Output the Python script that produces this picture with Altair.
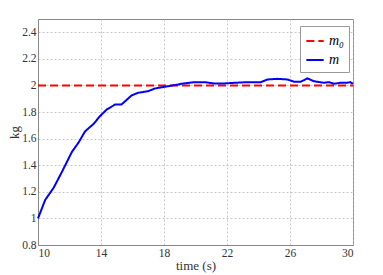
import altair as alt
import pandas as pd

t_m = [10, 10.46, 10.99, 11.52, 12.15, 12.57, 12.99, 13.52, 13.94, 14.37, 14.9, 15.3,
       15.94, 16.36, 16.99, 17.41, 18.04, 18.88, 19.1, 19.94, 20.57, 21.2, 21.83, 22.46,
       23.3, 24.15, 24.57, 25.2, 25.84, 26.26, 26.68, 27.1, 27.52, 28.15, 28.47, 28.78,
       29.2, 29.62, 29.83, 30]
v_m = [1.0, 1.14, 1.23, 1.35, 1.5, 1.57, 1.655, 1.71, 1.77, 1.82, 1.857, 1.857,
       1.925, 1.945, 1.957, 1.977, 1.99, 2.007, 2.013, 2.025, 2.025, 2.015, 2.015, 2.02,
       2.025, 2.025, 2.045, 2.05, 2.045, 2.028, 2.028, 2.053, 2.032, 2.02, 2.025, 2.013,
       2.02, 2.02, 2.025, 2.013]
t_m0 = [10, 30]
v_m0 = [2.0, 2.0]
series_names = ["m₀", "m"]

df = pd.DataFrame(
    {"t": t_m0 + t_m,
     "v": v_m0 + v_m,
     "s": [series_names[0]] * len(t_m0) + [series_names[1]] * len(t_m)}
)

font = "Liberation Serif"

chart = alt.Chart(df).mark_line(strokeWidth=2).encode(
    x=alt.X("t:Q", scale=alt.Scale(domain=[10, 30], nice=False),
            axis=alt.Axis(values=[10, 14, 18, 22, 26, 30], title="time (s)",
                          titlePadding=1, labelFont=font, titleFont=font)),
    y=alt.Y("v:Q", scale=alt.Scale(domain=[0.8, 2.5], nice=False),
            axis=alt.Axis(values=[0.8, 1.0, 1.2, 1.4, 1.6, 1.8, 2.0, 2.2, 2.4],
                          format=".1~f", title="kg", titlePadding=0,
                          labelFont=font, titleFont=font)),
    color=alt.Color("s:N", scale=alt.Scale(domain=series_names, range=["#ff0000", "#0000ff"]),
                    legend=alt.Legend(title=None, orient="none", legendX=262, legendY=7,
                                      fillColor="white", strokeColor="#999999",
                                      padding=5, symbolSize=300, symbolStrokeWidth=2,
                                      labelFont=font, labelFontStyle="italic",
                                      labelFontSize=14, rowPadding=2,
                                      symbolType="stroke")),
    strokeDash=alt.StrokeDash("s:N", scale=alt.Scale(domain=series_names,
                                                      range=[[8, 4], [1, 0]]),
                              legend=None),
    order=alt.Order("t:Q"),
).properties(
    width=315, height=226,
    autosize=alt.AutoSizeParams(type="none"),
    padding={"left": 30, "top": 11, "right": 14, "bottom": 30},
).configure_axis(
    labelFontSize=11.5, titleFontSize=13,
    titleFontWeight="normal", labelColor="#333333", titleColor="#333333",
    grid=True, gridColor="#b8b8b8", gridDash=[2, 2], gridWidth=0.8,
    ticks=False, labelPadding=2, domainColor="#888888",
).configure_view(
    stroke="#888888", strokeWidth=1
)

chart.save("out.html", embed_options={"renderer": "svg", "actions": False})
